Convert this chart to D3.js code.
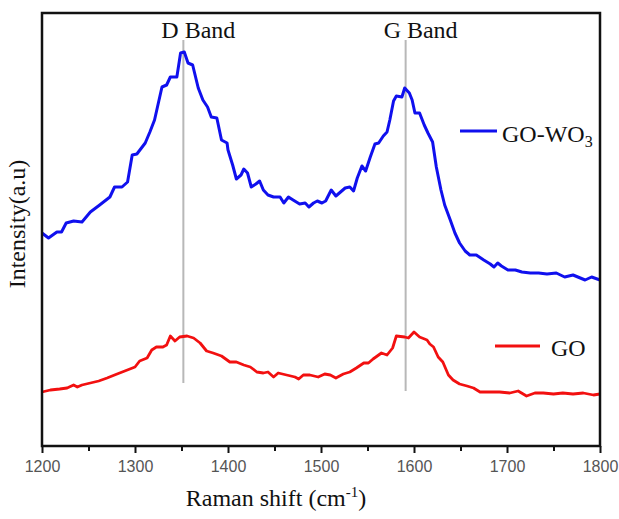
<!DOCTYPE html>
<html>
<head>
<meta charset="utf-8">
<title>Raman GO / GO-WO3</title>
<script src="https://cdn.jsdelivr.net/npm/d3@7"></script>
<style>
  body { margin: 0; background: #fff; }
</style>
</head>
<body>
<script>
// Raman spectra (x in cm-1, intensity in arbitrary units)
var shiftGOWO3 = [1200,1207,1216,1221,1226,1234,1243,1252,1262,1273,1278,1286,1292,1297,1302,1311,1316,1321,1329,1334,1338,1345,1349,1353,1357,1362,1368,1373,1378,1382,1388,1393,1399,1400,1405,1409,1414,1417,1421,1425,1430,1434,1438,1443,1449,1456,1460,1465,1470,1477,1483,1487,1492,1496,1501,1505,1511,1516,1521,1526,1531,1535,1539,1544,1548,1553,1558,1562,1567,1571,1574,1578,1581,1587,1590,1595,1598,1601,1606,1611,1615,1620,1624,1629,1633,1639,1644,1649,1655,1660,1667,1675,1682,1686,1690,1694,1701,1709,1716,1725,1734,1743,1753,1762,1771,1784,1791,1800];
var intGOWO3   = [213,208,214,214,223,225,224,234,241,249,259,259,264,291,292,303,314,326,359,361,369,369,393,394,383,381,358,346,339,329,328,306,303,296,281,267,271,277,273,259,262,265,256,251,249,249,243,249,246,242,243,239,243,245,243,245,256,250,254,258,259,255,268,280,275,289,302,303,310,314,326,345,350,349,358,353,346,333,333,321,313,304,279,256,241,226,213,203,195,191,191,186,182,179,183,180,176,176,174,173,173,172,173,169,171,166,169,166];

var shiftGO = [1200,1209,1219,1227,1234,1238,1243,1252,1261,1270,1278,1289,1300,1305,1313,1318,1323,1330,1334,1338,1343,1348,1356,1363,1370,1377,1384,1393,1402,1409,1417,1424,1431,1438,1443,1449,1454,1463,1472,1476,1481,1488,1497,1504,1510,1516,1524,1531,1538,1546,1551,1556,1565,1571,1577,1581,1590,1594,1600,1606,1614,1617,1621,1626,1631,1637,1642,1649,1657,1664,1671,1682,1692,1703,1712,1721,1730,1739,1750,1760,1771,1782,1793,1800];
var intGO   = [54,56,57,58,61,59,61,63,65,68,71,75,79,85,88,96,99,99,101,110,105,109,110,108,103,95,93,90,84,84,81,79,74,73,74,69,73,71,69,67,71,71,69,72,71,68,72,74,78,83,83,87,93,91,98,110,109,108,114,109,106,102,99,89,84,71,66,62,60,58,54,54,54,53,55,50,53,53,52,53,52,53,51,52];

var xTicks = [1200,1300,1400,1500,1600,1700,1800];
var bandNames = ["D Band","G Band"];
var bandShift = [1352,1591];
var bandTop = [406,406];
var bandBottom = [63,55];

var width = 619, height = 519;
var margin = {top: 13, right: 19, bottom: 73, left: 42};
var w = width - margin.left - margin.right;
var h = height - margin.top - margin.bottom;
var serif = "'Liberation Serif', 'Times New Roman', serif";

var svg = d3.select("body").append("svg")
    .attr("width", width)
    .attr("height", height);

var g = svg.append("g")
    .attr("transform", "translate(" + margin.left + "," + margin.top + ")");

var x = d3.scaleLinear().domain([1200, 1800]).range([0, w]);
var y = d3.scaleLinear().domain([0, 433]).range([h, 0]);

// band marker lines
bandShift.forEach(function(s, i) {
  g.append("line")
    .attr("x1", x(s)).attr("x2", x(s))
    .attr("y1", y(bandTop[i])).attr("y2", y(bandBottom[i]))
    .style("stroke", "#b8b8b8")
    .style("stroke-width", 2);
  g.append("text")
    .attr("x", x(s) + 15)
    .attr("y", 25)
    .attr("text-anchor", "middle")
    .style("font-family", serif)
    .style("font-size", "24px")
    .style("fill", "#111")
    .text(bandNames[i]);
});

var line = d3.line()
    .x(function(d) { return x(d[0]); })
    .y(function(d) { return y(d[1]); });

g.append("path")
  .datum(d3.zip(shiftGOWO3, intGOWO3))
  .attr("d", line)
  .style("fill", "none")
  .style("stroke", "#1010ee")
  .style("stroke-width", 3)
  .style("stroke-linejoin", "round");

g.append("path")
  .datum(d3.zip(shiftGO, intGO))
  .attr("d", line)
  .style("fill", "none")
  .style("stroke", "#f21010")
  .style("stroke-width", 2.8)
  .style("stroke-linejoin", "round");

// x axis with minor ticks
var xAxis = g.append("g")
    .attr("transform", "translate(0," + h + ")")
    .call(d3.axisBottom(x).tickValues(d3.range(1250, 1800, 100)).tickSize(5).tickFormat(""));
xAxis.select(".domain").remove();
xAxis.selectAll("line").style("stroke", "#111").style("stroke-width", 2);

var xAxisMajor = g.append("g")
    .attr("transform", "translate(0," + h + ")")
    .call(d3.axisBottom(x).tickValues(xTicks).tickSize(7).tickPadding(8).tickFormat(d3.format("d")));
xAxisMajor.select(".domain").remove();
xAxisMajor.selectAll("line").style("stroke", "#111").style("stroke-width", 2);
xAxisMajor.selectAll("text")
    .style("font-family", "'Liberation Sans', Arial, sans-serif")
    .style("font-size", "16px")
    .style("fill", "#555");

// frame
g.append("rect")
  .attr("x", 0).attr("y", 0)
  .attr("width", w).attr("height", h)
  .style("fill", "none")
  .style("stroke", "#111")
  .style("stroke-width", 2.5);

// legend
var legend = [
  {name: "GO-WO", sub: "3", color: "#1010ee", x1: 460, x2: 497, ly: 131, tx: 502, ty: 142},
  {name: "GO", sub: "", color: "#f21010", x1: 495, x2: 540, ly: 346, tx: 551, ty: 356}
];
legend.forEach(function(l) {
  svg.append("line")
    .attr("x1", l.x1).attr("x2", l.x2)
    .attr("y1", l.ly).attr("y2", l.ly)
    .style("stroke", l.color)
    .style("stroke-width", 3);
  var t = svg.append("text")
    .attr("x", l.tx).attr("y", l.ty)
    .style("font-family", serif)
    .style("font-size", "24px")
    .style("fill", "#111")
    .text(l.name);
  if (l.sub) {
    t.append("tspan")
      .attr("dy", 5)
      .style("font-size", "16px")
      .text(l.sub);
  }
});

// axis titles
var xTitle = svg.append("text")
    .attr("x", 276).attr("y", 506)
    .attr("text-anchor", "middle")
    .style("font-family", serif)
    .style("font-size", "24px")
    .style("fill", "#111")
    .text("Raman shift (cm");
xTitle.append("tspan").attr("dy", -9).style("font-size", "15px").text("-1");
xTitle.append("tspan").attr("dy", 9).text(")");

svg.append("text")
    .attr("transform", "translate(25,224) rotate(-90)")
    .attr("text-anchor", "middle")
    .style("font-family", serif)
    .style("font-size", "24px")
    .style("fill", "#111")
    .text("Intensity(a.u)");
</script>
</body>
</html>
